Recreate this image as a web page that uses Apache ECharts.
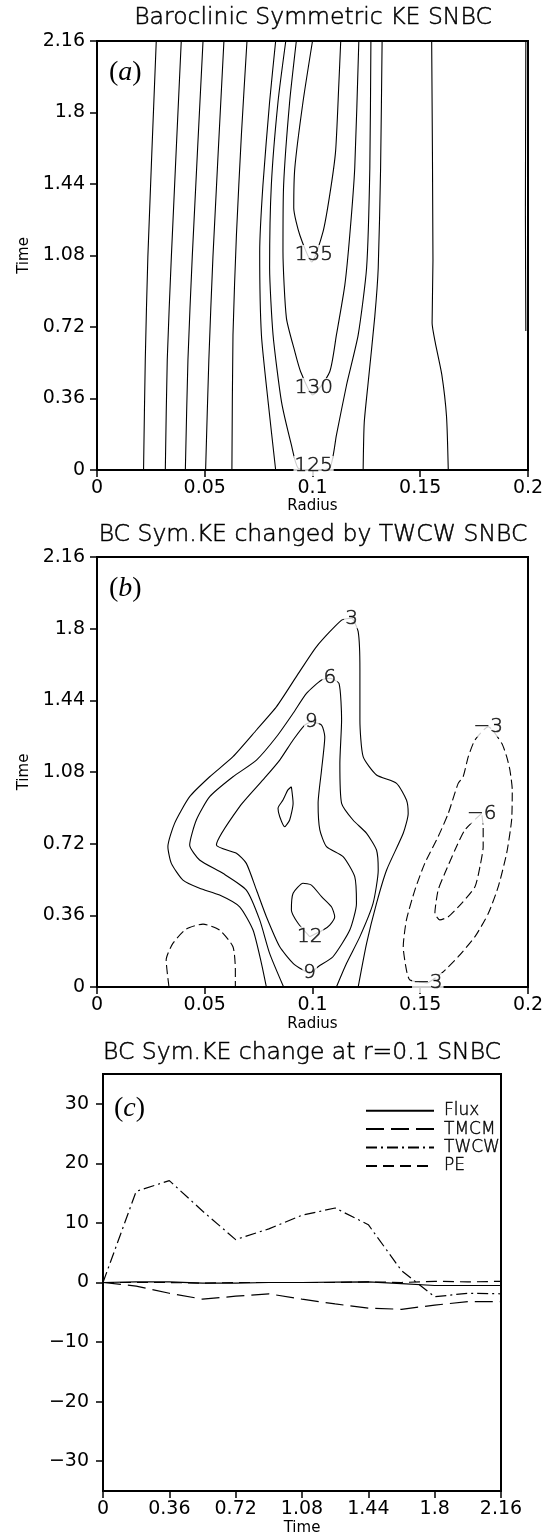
<!DOCTYPE html>
<html><head><meta charset="utf-8">
<script src="https://cdn.jsdelivr.net/npm/echarts@6/dist/echarts.min.js"></script>
<style>html,body{margin:0;padding:0;background:#fff}#c{width:550px;height:1537px}</style>
</head><body><div id="c"></div>
<script>
// ---------- tick values ----------
const radiusTicks = [0, 0.05, 0.1, 0.15, 0.2];
const timeTicks = [0, 0.36, 0.72, 1.08, 1.44, 1.8, 2.16];
const keTicks = [-30, -20, -10, 0, 10, 20, 30];

// ---------- panel (a): contours [radius, time] ----------
const aLine1 = [[0.0275,2.16],[0.0236,1.073],[0.0224,0.554],[0.0216,0]];
const aLine2 = [[0.0391,2.16],[0.0345,1.073],[0.0326,0.554],[0.0317,0]];
const aLine3 = [[0.0492,2.16],[0.0442,1.073],[0.0422,0.554],[0.0410,0]];
const aLine4 = [[0.0589,2.16],[0.0538,1.073],[0.0519,0.554],[0.0504,0]];
const aLine5 = [[0.0696,2.16],[0.0670,1.687],[0.0647,1.183],[0.0631,0.680],[0.0626,0]];
const a120L = [[0.0829,2.16],[0.0801,1.854],[0.0770,1.435],[0.0755,1.099],[0.0763,0.680],[0.0794,0.344],[0.0829,0]];
const a120R = [[0.1323,2.16],[0.1316,1.521],[0.1305,1.017],[0.1289,0.772],[0.1258,0.437],[0.1240,0.237],[0.1235,0]];
const a125 = [[0.0876,2.16],[0.0840,1.854],[0.0809,1.435],[0.0801,1.017],[0.0817,0.680],[0.0856,0.344],[0.0902,0.126],[0.0933,0.010],[0.1005,0.0],[0.1080,0.010],[0.1111,0.176],[0.1158,0.428],[0.1212,0.680],[0.1251,1.017],[0.1266,1.521],[0.1271,2.16]];
const a130 = [[0.0925,2.16],[0.0894,1.854],[0.0866,1.435],[0.0863,1.099],[0.0879,0.765],[0.0918,0.596],[0.0945,0.495],[0.1001,0.378],[0.1080,0.495],[0.1111,0.680],[0.1150,0.931],[0.1173,1.183],[0.1196,1.521],[0.1215,2.16]];
const a135 = [[0.1000,2.16],[0.0956,1.854],[0.0918,1.521],[0.0913,1.319],[0.0941,1.183],[0.0997,1.047],[0.1049,1.200],[0.1080,1.385],[0.1107,1.603],[0.1122,1.938],[0.1131,2.16]];
const aLine6 = [[0.1553,2.16],[0.1559,1.057],[0.1555,0.740],[0.1570,0.640],[0.1600,0.480],[0.1622,0.268],[0.1630,0]];
const aLine7 = [[0.1990,2.16],[0.1988,1.30],[0.1990,0.70]];
const aLabels = [[0.1006,1.0825,'135'],[0.1006,0.413,'130'],[0.1005,0.02,'125']];

// ---------- panel (b): contours [radius, time] ----------
const b3 = [[0.0786,0],[0.0763,0.119],[0.0724,0.286],[0.0662,0.403],[0.0569,0.462],[0.0476,0.496],[0.0399,0.537],[0.0345,0.621],[0.0329,0.705],[0.0360,0.822],[0.0430,0.956],[0.0523,1.056],[0.0631,1.157],[0.0740,1.291],[0.0833,1.408],[0.0925,1.559],[0.1018,1.709],[0.1135,1.843],[0.1181,1.852],[0.1212,1.785],[0.1220,1.592],[0.1220,1.341],[0.1235,1.157],[0.1297,1.065],[0.1390,1.023],[0.1436,0.939],[0.1444,0.872],[0.1421,0.772],[0.1344,0.588],[0.1297,0.420],[0.1251,0.219],[0.1212,0]];
const b6 = [[0.0866,0],[0.0801,0.169],[0.0755,0.337],[0.0693,0.487],[0.0584,0.571],[0.0476,0.638],[0.0430,0.713],[0.0461,0.839],[0.0523,0.956],[0.0631,1.056],[0.0740,1.140],[0.0833,1.257],[0.0910,1.375],[0.0972,1.475],[0.1042,1.542],[0.1080,1.551],[0.1123,1.525],[0.1135,1.341],[0.1127,1.124],[0.1135,0.923],[0.1188,0.839],[0.1251,0.772],[0.1297,0.688],[0.1305,0.588],[0.1281,0.420],[0.1220,0.253],[0.1158,0.119],[0.1111,0]];
const b9 = [[0.0995,1.333],[0.0964,1.316],[0.0910,1.241],[0.0848,1.140],[0.0770,1.040],[0.0662,0.906],[0.0554,0.713],[0.0647,0.672],[0.0693,0.621],[0.0740,0.487],[0.0786,0.353],[0.0848,0.202],[0.0910,0.119],[0.0956,0.085],[0.0987,0.069],[0.1026,0.102],[0.1095,0.152],[0.1173,0.286],[0.1204,0.420],[0.1196,0.554],[0.1142,0.655],[0.1065,0.705],[0.1034,0.789],[0.1026,0.923],[0.1042,1.090],[0.1057,1.257],[0.1042,1.316],[0.0995,1.333]];
const b9Blob = [[0.0902,1.006],[0.0910,0.923],[0.0894,0.839],[0.0871,0.805],[0.0848,0.855],[0.0840,0.898],[0.0863,0.939],[0.0886,0.990],[0.0902,1.006]];
const b12 = [[0.0987,0.253],[0.0933,0.320],[0.0902,0.387],[0.0910,0.471],[0.0956,0.521],[0.0995,0.512],[0.1042,0.454],[0.1088,0.403],[0.1103,0.353],[0.1080,0.311],[0.1049,0.286],[0.0987,0.253]];
const bNeg3Left = [[0.0334,0],[0.0321,0.136],[0.0352,0.219],[0.0414,0.291],[0.0492,0.316],[0.0569,0.286],[0.0631,0.202],[0.0642,0.085],[0.0642,0]];
const bNeg3Right = [[0.1535,0.020],[0.1452,0.035],[0.1436,0.085],[0.1421,0.202],[0.1436,0.337],[0.1475,0.487],[0.1521,0.621],[0.1583,0.755],[0.1630,0.872],[0.1676,1.023],[0.1699,1.056],[0.1723,1.157],[0.1754,1.241],[0.1816,1.307],[0.1878,1.224],[0.1901,1.157],[0.1916,1.090],[0.1927,0.990],[0.1924,0.839],[0.1901,0.672],[0.1862,0.504],[0.1816,0.370],[0.1754,0.253],[0.1676,0.152],[0.1599,0.069],[0.1535,0.020]];
const bNeg6 = [[0.1785,0.872],[0.1707,0.789],[0.1661,0.688],[0.1614,0.571],[0.1583,0.487],[0.1568,0.370],[0.1591,0.337],[0.1630,0.353],[0.1692,0.420],[0.1754,0.504],[0.1777,0.604],[0.1792,0.705],[0.1792,0.805],[0.1785,0.872]];
const bLabels = [[0.1181,1.852,'3'],[0.1080,1.551,'6'],[0.0995,1.333,'9'],[0.0987,0.069,'9'],[0.0987,0.253,'12'],[0.1816,1.307,'\u22123'],[0.1785,0.872,'\u22126'],[0.1535,0.020,'\u22123']];

// ---------- panel (c): lines vs time ----------
const time = [0,0.18,0.36,0.54,0.72,0.9,1.08,1.26,1.44,1.62,1.8,1.98,2.16];
const flux = [0,0.1,0.1,-0.1,-0.1,0,0,0.05,0.1,-0.2,-0.5,-0.5,-0.5];
const tmcm = [0,-0.6,-1.8,-2.8,-2.3,-1.9,-2.8,-3.6,-4.3,-4.5,-3.8,-3.2,-3.2];
const twcw = [0,15.3,17.1,12.0,7.2,9.0,11.3,12.5,9.7,2.0,-2.4,-1.8,-1.9];
const pe = [0,0,0,-0.1,0,0,0,0,0.1,0,0.2,0.1,0.2];

const FONT = 'DejaVu Sans';
const fmt = v => String(parseFloat(Number(v).toFixed(2))).replace('-', '\u2212');

function contour(arr, gi, dashed) {
  return {type:'line', xAxisIndex:gi, yAxisIndex:gi, data:arr, symbol:'none', silent:true, smooth:0.2,
    animation:false, lineStyle:{color:'#000', width:1.1, type: dashed ? [9,4] : 'solid'}, z:2};
}
function labelSeries(arr, gi) {
  return {type:'scatter', xAxisIndex:gi, yAxisIndex:gi, symbolSize:0, silent:true, animation:false, z:5,
    data: arr.map(l => ({value:[l[0], l[1]], name:l[2]})),
    label:{show:true, position:'inside', formatter:'{b}', color:'#000', fontSize:20, fontWeight:200,
      textBorderColor:'#000', textBorderWidth:0.6,
      fontFamily:FONT, backgroundColor:'#fff', padding:[0,1]}};
}
function xAxisCfg(gi, min, max, ticks, name, gap) {
  return {gridIndex:gi, type:'value', min, max, name, nameLocation:'middle', nameGap:gap,
    nameTextStyle:{color:'#000', fontSize:15, fontFamily:FONT},
    axisLine:{show:true, onZero:false, lineStyle:{color:'#000', width:2}},
    axisTick:{show:true, length:7, customValues:ticks, lineStyle:{color:'#000', width:1.5}},
    axisLabel:{customValues:ticks, formatter:fmt, color:'#000', fontSize:19, fontFamily:FONT, margin:9},
    splitLine:{show:false}};
}
function yAxisCfg(gi, min, max, ticks, name, gap, margin) {
  return {gridIndex:gi, type:'value', min, max, name, nameLocation:'middle', nameGap:gap,
    nameTextStyle:{color:'#000', fontSize:15, fontFamily:FONT},
    axisLine:{show:true, onZero:false, lineStyle:{color:'#000', width:2}},
    axisTick:{show:true, length:7, customValues:ticks, lineStyle:{color:'#000', width:1.5}},
    axisLabel:{customValues:ticks, formatter:fmt, color:'#000', fontSize:19, fontFamily:FONT, margin:margin},
    splitLine:{show:false}};
}

const series = [];
[aLine1,aLine2,aLine3,aLine4,aLine5,a120L,a120R,a125,a130,a135,aLine6,aLine7].forEach(a => series.push(contour(a,0,false)));
series.push(labelSeries(aLabels,0));
[b3,b6,b9,b9Blob,b12].forEach(a => series.push(contour(a,1,false)));
[bNeg3Left,bNeg3Right,bNeg6].forEach(a => series.push(contour(a,1,true)));
series.push(labelSeries(bLabels,1));
const lineDefs = [['Flux',flux,'solid'],['TMCM',tmcm,[18,7]],['TWCW',twcw,[11,4,2,4]],['PE',pe,[11,6]]];
lineDefs.forEach(d => series.push({type:'line', name:d[0], xAxisIndex:2, yAxisIndex:2, symbol:'none', showSymbol:false,
  animation:false, legendIcon:'none',
  data: time.map((t,i) => [t, d[1][i]]), lineStyle:{color:'#000', width:1.2, type:d[2]}, itemStyle:{color:'#000'}}));

const titleStyle = {color:'#000', fontSize:23.5, fontWeight:200, fontFamily:FONT, textBorderColor:'#000', textBorderWidth:0.5};
const panelStyle = {color:'#000', fontSize:28, fontFamily:'Liberation Serif', fontWeight:'normal',
  rich:{i:{fontStyle:'italic', fontSize:28, fontFamily:'Liberation Serif', color:'#000'}}};

const option = {
  backgroundColor:'#fff',
  animation:false,
  title:[
    {text:'Baroclinic Symmetric KE SNBC', left:313, top:6, textAlign:'center', padding:0, textStyle:titleStyle},
    {text:'BC Sym.KE changed by TWCW SNBC', left:313, top:523, textAlign:'center', padding:0, textStyle:titleStyle},
    {text:'BC Sym.KE change at r=0.1 SNBC', left:302, top:1041, textAlign:'center', padding:0, textStyle:titleStyle},
    {text:'({i|a})', left:109, top:59, padding:0, textStyle:panelStyle},
    {text:'({i|b})', left:109, top:575, padding:0, textStyle:panelStyle},
    {text:'({i|c})', left:114, top:1095, padding:0, textStyle:panelStyle}
  ],
  grid:[
    {left:97, top:41, width:431, height:429, show:true, borderColor:'#000', borderWidth:2, backgroundColor:'transparent'},
    {left:97, top:557, width:431, height:430, show:true, borderColor:'#000', borderWidth:2, backgroundColor:'transparent'},
    {left:103, top:1074, width:398, height:418, show:true, borderColor:'#000', borderWidth:2, backgroundColor:'transparent'}
  ],
  xAxis:[
    xAxisCfg(0, 0, 0.2, radiusTicks, 'Radius', 28),
    xAxisCfg(1, 0, 0.2, radiusTicks, 'Radius', 30),
    xAxisCfg(2, 0, 2.16, timeTicks, 'Time', 30)
  ],
  yAxis:[
    yAxisCfg(0, 0, 2.16, timeTicks, 'Time', 62, 12),
    yAxisCfg(1, 0, 2.16, timeTicks, 'Time', 62, 12),
    yAxisCfg(2, -35, 35, keTicks, '', 50, 14)
  ],
  legend:{data:['Flux','TMCM','TWCW','PE'], orient:'vertical', left:365, top:1102, padding:0,
    itemWidth:68, itemHeight:12, itemGap:1, itemStyle:{opacity:0},
    textStyle:{color:'#000', fontSize:17, fontWeight:200, fontFamily:FONT, textBorderColor:'#000', textBorderWidth:0.4, padding:[0,0,0,5]},
    selectedMode:false},
  series
};
const chart = echarts.init(document.getElementById('c'), null, {renderer:'canvas'});
chart.setOption(option);
</script></body></html>
